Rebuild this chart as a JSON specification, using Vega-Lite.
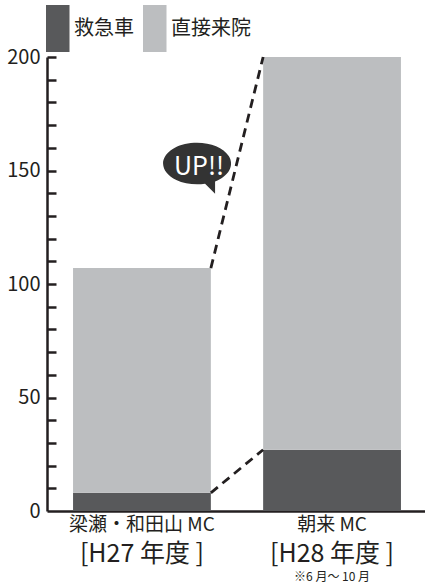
{
  "$schema": "https://vega.github.io/schema/vega-lite/v6.json",
  "width": 380,
  "height": 454,
  "autosize": "none",
  "padding": {"left": 47, "top": 57, "right": 0, "bottom": 72},
  "config": {
    "view": {"stroke": null},
    "font": "Noto Sans CJK JP",
    "axis": {
      "labelFont": "Noto Sans CJK JP",
      "labelColor": "#231f20",
      "domainColor": "#231f20",
      "tickColor": "#231f20",
      "grid": false
    },
    "legend": {"labelFont": "Noto Sans CJK JP"}
  },
  "datasets": {
    "bars": [
      {"site": "梁瀬・和田山 MC", "type": "救急車", "count": 8},
      {"site": "梁瀬・和田山 MC", "type": "直接来院", "count": 99},
      {"site": "朝来 MC", "type": "救急車", "count": 27},
      {"site": "朝来 MC", "type": "直接来院", "count": 173}
    ],
    "links": [
      {"from": "[H27 年度 ]", "to": "[H28 年度 ]", "start": 107, "end": 200},
      {"from": "[H27 年度 ]", "to": "[H28 年度 ]", "start": 8, "end": 27}
    ],
    "callout": [
      {"note": "", "level": 153, "label": "UP!!"}
    ]
  },
  "layer": [
    {
      "data": {"name": "bars"},
      "mark": {"type": "bar"},
      "encoding": {
        "x": {
          "field": "site",
          "type": "nominal",
          "sort": ["梁瀬・和田山 MC", "朝来 MC"],
          "scale": {"type": "band", "paddingInner": 0.275, "paddingOuter": 0.137},
          "axis": {
            "title": null,
            "orient": "bottom",
            "domainWidth": 2.5,
            "ticks": false,
            "labelAngle": 0,
            "labelFontSize": 19,
            "labelPadding": 4
          }
        },
        "y": {
          "field": "count",
          "type": "quantitative",
          "stack": "zero",
          "scale": {"domain": [0, 200], "nice": false},
          "axis": {
            "title": null,
            "orient": "left",
            "values": [0, 50, 100, 150, 200],
            "labelOverlap": false,
            "ticks": false,
            "domainWidth": 2.5,
            "labelFontSize": 20,
            "labelPadding": 7,
            "zindex": 1
          }
        },
        "color": {
          "field": "type",
          "type": "nominal",
          "scale": {"domain": ["救急車", "直接来院"], "range": ["#58595b", "#bcbec0"]},
          "legend": {
            "title": null,
            "orient": "none",
            "legendX": -1,
            "legendY": -52,
            "direction": "horizontal",
            "symbolType": "M-1,-1H0V1H-1Z",
            "symbolSize": 2209,
            "symbolStrokeWidth": 0,
            "symbolOpacity": 1,
            "labelFontSize": 20,
            "labelColor": "#231f20",
            "labelOffset": -19,
            "columnPadding": 9
          }
        },
        "order": {"field": "type", "sort": "ascending"}
      }
    },
    {
      "data": {"name": "links"},
      "mark": {"type": "rule", "strokeDash": [9, 6], "strokeWidth": 2.8, "color": "#231f20"},
      "encoding": {
        "x": {
          "field": "from",
          "type": "nominal",
          "bandPosition": 1,
          "scale": {"type": "band", "domain": ["[H27 年度 ]", "[H28 年度 ]"], "paddingInner": 0.275, "paddingOuter": 0.137},
          "axis": {
            "title": null,
            "orient": "bottom",
            "offset": 29,
            "domain": false,
            "ticks": false,
            "labelAngle": 0,
            "labelFontSize": 25,
            "labelPadding": 1
          }
        },
        "x2": {"field": "to", "bandPosition": 0},
        "y": {
          "field": "start",
          "type": "quantitative",
          "scale": {"domain": [0, 200], "nice": false},
          "axis": {
            "title": null,
            "orient": "right",
            "offset": -380,
            "values": [10, 20, 30, 40, 50, 60, 70, 80, 90, 100, 110, 120, 130, 140, 150, 160, 170, 180, 190, 200],
            "domain": false,
            "labels": false,
            "ticks": true,
            "tickSize": 9,
            "tickWidth": 2.5,
            "tickColor": "#231f20",
            "tickOpacity": 1,
            "zindex": 1
          }
        },
        "y2": {"field": "end"}
      }
    },
    {
      "data": {"name": "callout"},
      "encoding": {
        "x": {
          "field": "note",
          "type": "nominal",
          "bandPosition": 0.9,
          "scale": {"type": "band", "domain": ["", "※6 月～ 10 月"], "paddingInner": 0.275, "paddingOuter": 0.137},
          "axis": {
            "title": null,
            "orient": "bottom",
            "offset": 59,
            "domain": false,
            "ticks": false,
            "labelAngle": 0,
            "labelFontSize": 12,
            "labelPadding": 1
          }
        },
        "y": {
          "field": "level",
          "type": "quantitative",
          "scale": {"domain": [0, 200], "nice": false},
          "axis": null
        }
      },
      "layer": [
        {
          "mark": {
            "type": "point",
            "shape": "M-0.85,0 A0.85,0.525 0 1,1 0.45,0.445 L0.45,0.75 L0.2,0.5 A0.85,0.525 0 0,1 -0.85,0 Z",
            "size": 6400,
            "filled": true,
            "color": "#333333",
            "opacity": 1,
            "strokeWidth": 0
          }
        },
        {
          "mark": {"type": "text", "color": "#ffffff", "fontSize": 25, "dx": 2, "dy": 3},
          "encoding": {"text": {"field": "label"}}
        }
      ]
    }
  ],
  "resolve": {"scale": {"x": "independent", "y": "independent"}}
}
